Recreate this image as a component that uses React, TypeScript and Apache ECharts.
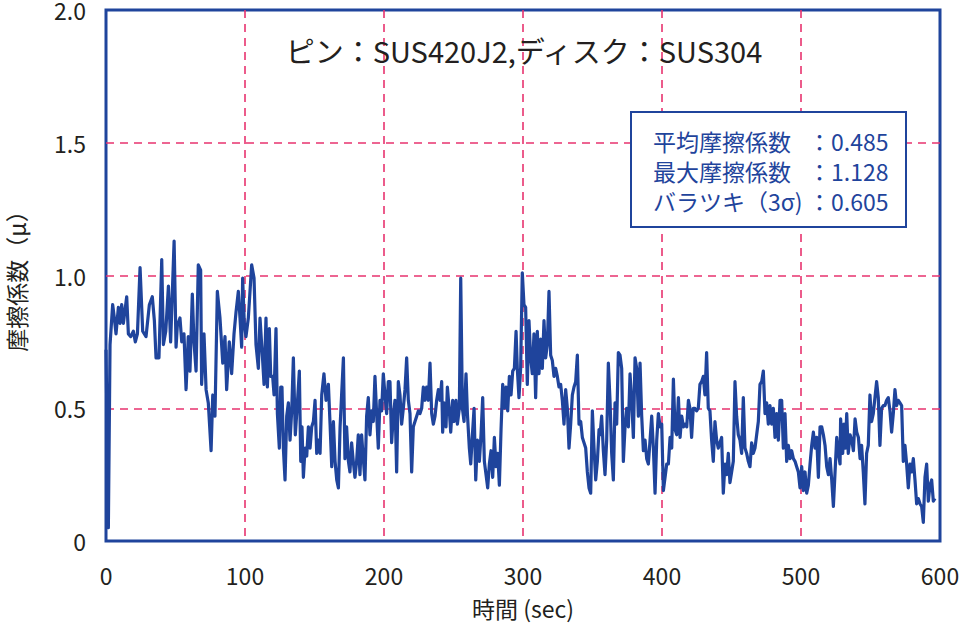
import React, { useEffect, useRef } from "react";
import * as echarts from "echarts";

// [time (sec), friction coefficient]
const run0to110: [number, number][] = [
  [0, 0.72], [1.7, 0.05], [2.9, 0.74], [4.8, 0.89], [6, 0.84], [7.2, 0.78], [8.9, 0.88], [10.1, 0.82],
  [11.3, 0.89], [12.5, 0.82], [14.9, 0.92], [16.1, 0.78], [17.8, 0.77], [19.7, 0.79], [21.1, 0.75],
  [22.6, 0.78], [24.5, 1.03], [26.4, 0.79], [28.8, 0.77], [31.2, 0.89], [33.3, 0.92], [34.8, 0.83],
  [36, 0.69], [38.1, 0.69], [40.1, 1.06], [41.3, 0.74], [43, 0.79], [44.9, 0.96], [46.5, 0.75],
  [49, 1.13], [50.4, 0.73], [51.3, 0.81], [53.2, 0.84], [54.5, 0.75], [56.1, 0.78], [57.6, 0.57],
  [59.2, 0.77], [60.4, 0.64], [62.1, 0.93], [63.3, 0.75], [64.8, 0.64], [66.4, 1.04], [68.1, 1.02],
  [68.8, 0.59], [70.5, 0.78], [72, 0.57], [73.6, 0.52], [75.6, 0.34], [76.8, 0.55], [78.4, 0.47],
  [80.1, 0.94], [82, 0.84], [84, 0.67], [85.6, 0.77], [86.8, 0.57], [88.7, 0.75], [90.4, 0.63],
  [92.1, 0.78], [93.5, 0.86], [95.2, 0.94], [96.4, 0.84], [97.6, 0.73], [98.3, 0.99], [99.5, 0.82],
  [100.7, 0.77], [102.4, 0.84], [104.8, 1.04], [106.5, 0.99], [107.9, 0.74], [109.6, 0.65], [110.8, 0.84],
];

const run110to240: [number, number][] = [
  [112.7, 0.68], [113.7, 0.59], [115.1, 0.84], [116.1, 0.58], [117.5, 0.8], [118.5, 0.62], [119.9, 0.62],
  [120.9, 0.55], [122.3, 0.8], [123.3, 0.48], [124.7, 0.35], [125.7, 0.58], [126.6, 0.58], [127.6, 0.35],
  [128.8, 0.23], [130, 0.47], [131.2, 0.52], [132.4, 0.38], [133.6, 0.49], [134.8, 0.69], [136.2, 0.4],
  [137.7, 0.52], [139.1, 0.64], [140.1, 0.3], [141, 0.43], [142, 0.24], [143.2, 0.35], [144.4, 0.32],
  [145.6, 0.43], [146.8, 0.35], [148, 0.43], [149.2, 0.45], [150.4, 0.53], [151.6, 0.33], [152.8, 0.38],
  [154, 0.33], [155.2, 0.55], [156.8, 0.63], [158.3, 0.53], [160, 0.59], [161.2, 0.44], [162.4, 0.28],
  [163.6, 0.45], [164.8, 0.3], [166, 0.23], [167.2, 0.2], [168.4, 0.43], [169.5, 0.55], [170.8, 0.69],
  [171.9, 0.31], [173.1, 0.43], [174.4, 0.3], [175.5, 0.26], [176.7, 0.37], [177.9, 0.3], [179.1, 0.24],
  [180.3, 0.3], [181.5, 0.4], [182.7, 0.25], [183.9, 0.4], [185.1, 0.31], [186.3, 0.23], [187.5, 0.47],
  [188.7, 0.54], [189.9, 0.4], [191.1, 0.49], [192.3, 0.45], [193.5, 0.62], [194.7, 0.48], [195.9, 0.35],
  [197.1, 0.53], [198.3, 0.49], [199.5, 0.63], [200.7, 0.55], [201.9, 0.48], [203.1, 0.6], [204.3, 0.6],
  [205.5, 0.37], [206.7, 0.47], [207.9, 0.53], [209.1, 0.26], [210.3, 0.6], [211.5, 0.55], [212.7, 0.44],
  [213.9, 0.5], [215.1, 0.57], [216.3, 0.69], [217.5, 0.53], [218.7, 0.48], [219.9, 0.26], [221.1, 0.43],
  [222.3, 0.45], [223.5, 0.47], [224.7, 0.49], [225.9, 0.48], [227.1, 0.5], [228.3, 0.58], [229.5, 0.53],
  [230.7, 0.58], [231.9, 0.53], [233.1, 0.67], [234.3, 0.48], [235.5, 0.44], [236.7, 0.47], [237.9, 0.53],
  [239.1, 0.57],
];

const run240to355: [number, number][] = [
  [240.3, 0.53], [241.5, 0.6], [242.2, 0.41], [243.2, 0.52], [244.6, 0.43], [245.6, 0.58], [247, 0.49],
  [248, 0.41], [249.4, 0.53], [250.4, 0.45], [251.8, 0.53], [252.8, 0.44], [254.2, 0.5], [255.2, 0.99],
  [256.4, 0.5], [257.6, 0.45], [259, 0.63], [260, 0.48], [261.4, 0.35], [262.4, 0.29], [263.6, 0.4],
  [264.8, 0.5], [266, 0.23], [267.2, 0.38], [268.6, 0.3], [269.8, 0.4], [271, 0.54], [272.2, 0.3],
  [273.4, 0.25], [274.6, 0.2], [275.8, 0.29], [277, 0.34], [278.2, 0.24], [279.4, 0.39], [280.6, 0.28],
  [281.8, 0.33], [283, 0.21], [284.2, 0.42], [285.4, 0.59], [286.6, 0.5], [287.8, 0.58], [289, 0.49],
  [290.2, 0.62], [291.4, 0.55], [292.6, 0.64], [293.8, 0.65], [295, 0.79], [295.9, 0.65], [297.1, 0.54],
  [298.3, 0.65], [299.5, 1.01], [300.7, 0.89], [301.9, 0.88], [303.1, 0.59], [304.3, 0.83], [305.5, 0.69],
  [306.7, 0.63], [307.9, 0.78], [309.1, 0.54], [310.3, 0.79], [311.5, 0.63], [312.7, 0.76], [313.9, 0.65],
  [315.1, 0.83], [316.3, 0.69], [317.5, 0.74], [318.7, 0.94], [319.9, 0.7], [321.1, 0.68], [322.3, 0.62],
  [323.5, 0.65], [324.7, 0.62], [325.9, 0.58], [327.1, 0.59], [328.3, 0.53], [329.5, 0.44], [330.7, 0.57],
  [331.9, 0.5], [333.1, 0.35], [334.3, 0.44], [335.5, 0.55], [336.7, 0.58], [337.9, 0.6], [339.1, 0.7],
  [340.3, 0.44], [341.5, 0.45], [342.7, 0.39], [343.9, 0.37], [345.1, 0.35], [346.3, 0.26], [347.5, 0.2],
  [348.7, 0.18], [349.9, 0.49], [351.1, 0.35], [352.3, 0.23], [353.5, 0.3], [354.7, 0.42],
];

const run355to477: [number, number][] = [
  [355.4, 0.4], [356.6, 0.47], [357.8, 0.34], [359, 0.25], [360.2, 0.38], [361.4, 0.67], [362.6, 0.53],
  [363.8, 0.33], [365, 0.23], [366.2, 0.52], [367.4, 0.44], [368.6, 0.71], [369.8, 0.7], [371, 0.65],
  [372.2, 0.3], [373.4, 0.43], [374.6, 0.5], [375.8, 0.43], [377, 0.63], [378.2, 0.53], [379.4, 0.39],
  [380.6, 0.69], [381.8, 0.65], [383, 0.47], [384.2, 0.67], [385.4, 0.47], [386.6, 0.34], [387.8, 0.38],
  [389, 0.31], [390.2, 0.29], [391.4, 0.38], [392.6, 0.47], [393.8, 0.35], [395, 0.18], [396.2, 0.38],
  [397.4, 0.48], [398.6, 0.43], [399.8, 0.44], [401, 0.19], [402.2, 0.24], [403.4, 0.29], [404.6, 0.29],
  [405.8, 0.39], [407, 0.35], [408.2, 0.61], [409.4, 0.42], [410.6, 0.4], [411.8, 0.54], [413, 0.39],
  [414.2, 0.47], [415.4, 0.43], [416.6, 0.44], [417.8, 0.43], [419, 0.53], [420.1, 0.5], [421.3, 0.39],
  [422.5, 0.5], [423.7, 0.5], [424.9, 0.49], [426.1, 0.5], [427.3, 0.59], [428.5, 0.6], [429.7, 0.62],
  [430.9, 0.55], [432.1, 0.71], [433.3, 0.5], [434.5, 0.49], [435.7, 0.38], [436.9, 0.3], [438.1, 0.45],
  [439.3, 0.38], [440.5, 0.35], [441.7, 0.37], [442.9, 0.39], [444.1, 0.18], [445.3, 0.29], [446.5, 0.25],
  [447.7, 0.33], [448.9, 0.22], [450.1, 0.26], [451.3, 0.3], [452.5, 0.6], [453.7, 0.47], [454.9, 0.4],
  [456.1, 0.38], [457.3, 0.33], [458.5, 0.54], [459.7, 0.35], [460.9, 0.33], [462.1, 0.3], [463.3, 0.28],
  [464.5, 0.37], [465.7, 0.33], [466.9, 0.35], [468.1, 0.4], [469.3, 0.45], [470.5, 0.59], [471.7, 0.6],
  [472.9, 0.64], [474.1, 0.48], [475.3, 0.52], [476.5, 0.44],
];

const run477to600: [number, number][] = [
  [477.7, 0.51], [478.9, 0.44], [480.1, 0.5], [481.3, 0.39], [482.5, 0.48], [483.7, 0.38], [484.9, 0.53],
  [486.1, 0.53], [487.3, 0.35], [488.5, 0.48], [489.7, 0.3], [490.9, 0.36], [492.1, 0.31], [493.3, 0.34],
  [494.5, 0.31], [495.7, 0.3], [496.9, 0.28], [498.1, 0.26], [499.3, 0.2], [500.5, 0.28], [501.7, 0.19],
  [502.9, 0.26], [504.1, 0.18], [505.3, 0.21], [506.5, 0.29], [507.7, 0.36], [508.9, 0.41], [510.1, 0.35],
  [511.3, 0.39], [512.5, 0.24], [513.7, 0.43], [514.9, 0.43], [516.1, 0.4], [517.3, 0.36], [518.5, 0.28],
  [519.7, 0.25], [520.9, 0.31], [522.1, 0.23], [523.3, 0.13], [524.5, 0.26], [525.7, 0.39], [526.9, 0.33],
  [528.1, 0.29], [528.5, 0.46], [530, 0.33], [530.9, 0.44], [531.9, 0.35], [532.9, 0.48], [534, 0.33],
  [535.3, 0.4], [536.5, 0.38], [537.7, 0.34], [538.9, 0.46], [540.1, 0.41], [541.3, 0.39], [542.5, 0.31],
  [543.6, 0.36], [544.8, 0.26], [546, 0.14], [547.2, 0.33], [548.4, 0.36], [549.6, 0.55], [550.8, 0.45],
  [552, 0.48], [553.2, 0.54], [554.4, 0.6], [555.6, 0.54], [556.8, 0.36], [558, 0.5], [559.2, 0.51],
  [560.4, 0.51], [561.6, 0.53], [562.8, 0.54], [564, 0.49], [565.2, 0.41], [566.4, 0.48], [567.6, 0.57],
  [568.8, 0.51], [570, 0.53], [571.2, 0.52], [572.4, 0.51], [573.6, 0.3], [574.8, 0.36], [576, 0.29],
  [577.2, 0.2], [578.4, 0.29], [579.6, 0.26], [580.8, 0.31], [582, 0.23], [583.2, 0.14], [584.4, 0.16],
  [585.6, 0.14], [586.8, 0.13], [588, 0.07], [589.2, 0.24], [590.4, 0.29], [591.6, 0.15], [592.8, 0.21],
  [594, 0.23], [595.2, 0.15], [596.4, 0.16],
];

const titleText = "ピン：SUS420J2,ディスク：SUS304";
const statLabels = ["平均摩擦係数", "最大摩擦係数", "バラツキ（3σ)"];
const statValues = ["0.485", "1.128", "0.605"];
const xAxisName = "時間 (sec)";
const yAxisName = "摩擦係数（μ）";

const BLUE = "#1f449c";
const RED = "#e8336f";
const INK = "#231f20";
const FONT = "'Noto Sans CJK JP', 'Noto Sans', sans-serif";

export default function App() {
  const ref = useRef<HTMLDivElement>(null);

  useEffect(() => {
    document.body.style.margin = "0";
    if (!ref.current) return;
    const chart = echarts.init(ref.current, undefined, { renderer: "svg" });
    const data = [...run0to110, ...run110to240, ...run240to355, ...run355to477, ...run477to600];

    const statStyle = {
      fill: BLUE,
      fontSize: 23,
      fontFamily: FONT,
      lineHeight: 30,
      textVerticalAlign: "middle",
    };

    chart.setOption({
      animation: false,
      grid: {
        left: 106,
        right: 23,
        top: 10,
        bottom: 86,
        outerBoundsMode: "none",
        containLabel: false,
        show: true,
        borderColor: BLUE,
        borderWidth: 3,
        backgroundColor: "transparent",
      },
      xAxis: {
        type: "value",
        min: 0,
        max: 600,
        interval: 100,
        name: xAxisName,
        nameLocation: "middle",
        nameGap: 55,
        nameTextStyle: { color: INK, fontSize: 23, fontFamily: FONT },
        axisLine: { show: false },
        axisTick: { show: false },
        axisLabel: { color: INK, fontSize: 23, margin: 22, fontFamily: FONT },
        splitLine: {
          show: true,
          showMinLine: false,
          showMaxLine: false,
          lineStyle: { color: RED, width: 1.6, type: [8, 6] },
        },
      },
      yAxis: {
        type: "value",
        min: 0,
        max: 2,
        interval: 0.5,
        name: yAxisName,
        nameLocation: "middle",
        nameGap: 79,
        nameTextStyle: { color: INK, fontSize: 23, fontFamily: FONT },
        axisLine: { show: false },
        axisTick: { show: false },
        axisLabel: {
          color: INK,
          fontSize: 23,
          margin: 20,
          fontFamily: FONT,
          formatter: (v: number) => (v === 0 ? "0" : v.toFixed(1)),
        },
        splitLine: {
          show: true,
          showMinLine: false,
          showMaxLine: false,
          lineStyle: { color: RED, width: 1.6, type: [8, 6] },
        },
      },
      series: [
        {
          type: "line",
          data,
          showSymbol: false,
          symbol: "none",
          lineStyle: { color: BLUE, width: 3.2, join: "round" },
          z: 3,
        },
      ],
      graphic: [
        {
          type: "text",
          x: 524,
          y: 50,
          z: 100,
          style: {
            text: titleText,
            fill: INK,
            fontSize: 29,
            fontFamily: FONT,
            textAlign: "center",
            textVerticalAlign: "middle",
          },
        },
        {
          type: "rect",
          shape: { x: 631, y: 112, width: 275, height: 115 },
          z: 100,
          style: { fill: "#ffffff", stroke: BLUE, lineWidth: 2 },
        },
        {
          type: "text",
          x: 653,
          y: 171,
          z: 101,
          style: { ...statStyle, text: statLabels.join("\n") },
        },
        {
          type: "text",
          x: 808,
          y: 171,
          z: 101,
          style: { ...statStyle, text: statValues.map((v) => "：" + v).join("\n") },
        },
      ],
    });

    return () => chart.dispose();
  }, []);

  return <div ref={ref} style={{ width: 963, height: 627 }} />;
}
